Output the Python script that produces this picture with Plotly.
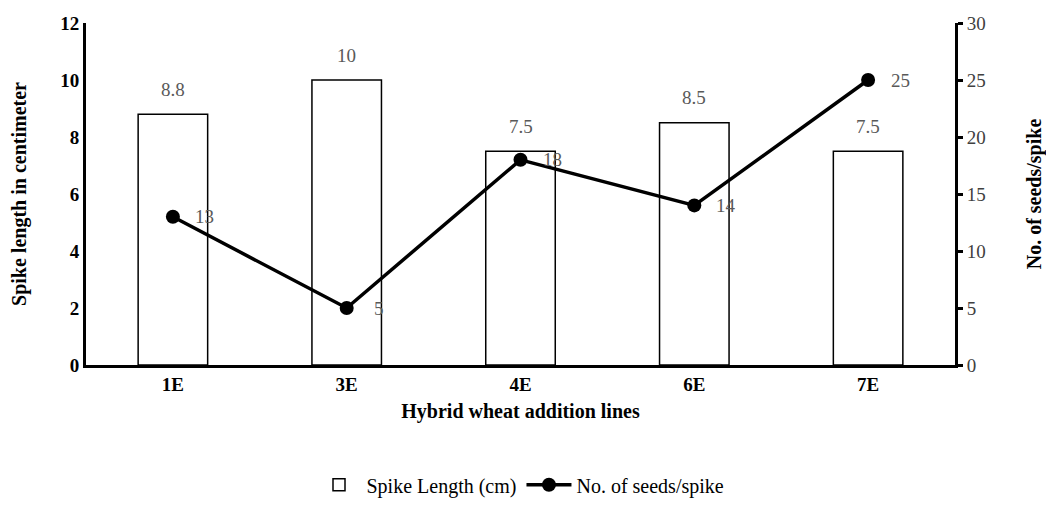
import plotly.graph_objects as go

categories = ["1E", "3E", "4E", "6E", "7E"]
spike_length = [8.8, 10, 7.5, 8.5, 7.5]
seeds_per_spike = [13, 5, 18, 14, 25]

FONT = "Liberation Serif"
LABEL_FONT = dict(family=FONT, size=19, color="#595959")

fig = go.Figure()
fig.add_trace(go.Bar(
    x=categories, y=spike_length, name="Spike Length (cm)",
    marker=dict(color="white", line=dict(color="black", width=1.5)),
    width=0.4,
))
fig.add_trace(go.Scatter(
    x=categories, y=seeds_per_spike, name="No. of seeds/spike",
    yaxis="y2", mode="lines+markers",
    line=dict(color="black", width=3.5),
    marker=dict(color="black", size=14),
    cliponaxis=False,
))

for c, v in zip(categories, spike_length):
    fig.add_annotation(x=c, y=v, xref="x", yref="y", text=str(v), showarrow=False,
                       yshift=25, font=LABEL_FONT)
for c, v in zip(categories, seeds_per_spike):
    fig.add_annotation(x=c, y=v, xref="x", yref="y2", text=str(v), showarrow=False,
                       xshift=32, font=LABEL_FONT)

fig.update_layout(
    width=1038, height=490,
    margin=dict(l=78, r=91, t=15, b=133, autoexpand=False),
    paper_bgcolor="white", plot_bgcolor="white",
    font=dict(family=FONT, color="black"),
    showlegend=True,
    legend=dict(orientation="h", x=0.5, xanchor="center", y=-0.35, yanchor="middle",
                font=dict(family=FONT, size=20, color="black"), itemwidth=45,
                borderwidth=0, tracegroupgap=0),
    xaxis=dict(
        showline=True, linecolor="black", linewidth=3, ticks="", automargin=False,
        tickfont=dict(family=FONT, size=19, color="black", weight="bold"),
        title=dict(text="<b>Hybrid wheat addition lines</b>", font=dict(family=FONT, size=20), standoff=11),
        showgrid=False,
    ),
    yaxis=dict(
        range=[0, 12], dtick=2, showline=True, linecolor="black", linewidth=3,
        ticks="", showgrid=False, zeroline=False, automargin=False,
        tickfont=dict(family=FONT, size=19, color="black", weight="bold"),
        title=dict(text="<b>Spike length in centimeter</b>", font=dict(family=FONT, size=20), standoff=35),
    ),
    yaxis2=dict(
        range=[0, 30], dtick=5, overlaying="y", side="right",
        showline=True, linecolor="black", linewidth=3,
        ticks="outside", ticklen=5, tickwidth=3, tickcolor="black",
        showgrid=False, zeroline=False, automargin=False,
        tickfont=dict(family=FONT, size=19, color="#404040"),
        title=dict(text="<b>No. of seeds/spike</b>", font=dict(family=FONT, size=20), standoff=46),
    ),
)

fig.write_html("out.html")
